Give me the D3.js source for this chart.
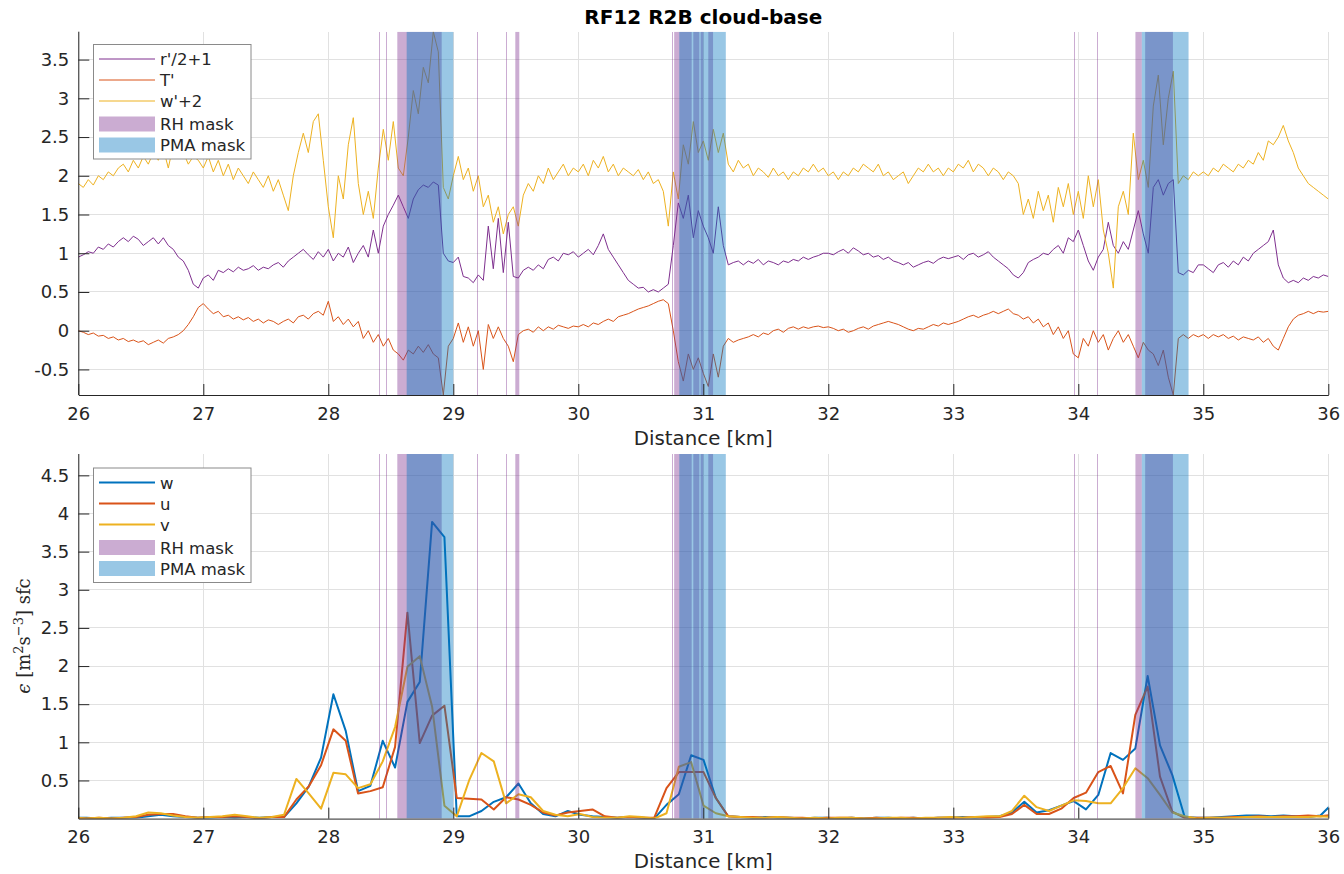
<!DOCTYPE html>
<html>
<head>
<meta charset="utf-8">
<script src="https://cdn.jsdelivr.net/npm/d3@7"></script>
<style>
  body { margin: 0; background: #fff; }
  svg { display: block; font-family: "DejaVu Sans", sans-serif; }
</style>
</head>
<body>
<svg id="fig" width="1344" height="874"></svg>
<script>
// ---------------- data ----------------
// High-rate perturbation record, sampled every 0.04 km starting at 26 km
const hiresStart = 26;
const hiresStep = 0.04;

// r'/2 + 1
const rPrime = [
  0.95,0.98,1.02,1.0,1.08,1.05,1.12,1.08,1.15,1.2,1.15,1.22,1.18,1.1,1.15,1.2,1.12,1.2,1.1,1.05,0.95,0.9,0.78,0.6,0.55,
  0.68,0.72,0.65,0.78,0.75,0.8,0.76,0.82,0.78,0.8,0.84,0.78,0.82,0.8,0.85,0.88,0.82,0.9,0.95,1.0,1.05,0.98,0.92,1.02,0.95,
  1.05,0.9,1.0,0.95,1.08,0.88,1.0,1.1,0.95,1.3,1.0,1.35,1.5,1.62,1.75,1.6,1.45,1.7,1.82,1.88,1.85,1.92,1.88,1.0,0.9,
  0.88,0.95,0.7,0.68,0.62,0.72,0.65,1.35,0.8,1.45,0.75,1.4,0.7,0.68,0.78,0.82,0.78,0.85,0.8,0.92,0.95,0.9,1.0,0.98,1.02,
  0.95,1.0,1.05,0.98,1.1,1.25,1.05,0.95,0.85,0.75,0.65,0.6,0.55,0.56,0.5,0.53,0.5,0.55,0.6,1.1,1.65,1.45,1.75,1.2,1.55,
  1.35,1.2,1.0,1.6,1.1,0.85,0.88,0.9,0.85,0.9,0.87,0.92,0.85,0.9,0.88,0.85,0.9,0.88,0.92,0.9,0.95,0.92,0.95,0.97,1.0,
  1.0,0.98,1.02,1.05,1.0,1.07,1.03,0.98,1.0,0.95,0.97,0.92,0.95,0.9,0.88,0.85,0.88,0.82,0.85,0.88,0.9,0.87,0.92,0.95,0.93,
  0.95,0.97,0.92,0.98,1.0,0.95,0.98,1.02,0.95,0.9,0.85,0.8,0.72,0.68,0.75,0.88,0.92,0.95,1.0,0.98,1.05,1.1,1.0,1.2,1.15,
  1.3,1.1,0.9,0.78,0.95,1.05,1.4,1.1,1.0,1.15,1.05,1.3,1.55,1.25,1.0,1.85,1.95,1.75,1.9,1.95,0.75,0.72,0.78,0.75,0.85,
  0.85,0.8,0.75,0.85,0.88,0.82,0.9,0.85,0.95,0.9,1.0,1.05,1.1,1.15,1.3,0.85,0.68,0.62,0.65,0.62,0.68,0.65,0.7,0.68,0.72,
  0.7
];

// T'
const tPrime = [
  0.0,-0.02,-0.05,-0.03,-0.07,-0.06,-0.1,-0.08,-0.12,-0.1,-0.14,-0.12,-0.15,-0.13,-0.18,-0.15,-0.12,-0.16,-0.1,-0.08,-0.05,0.0,0.08,0.18,0.3,
  0.35,0.28,0.22,0.25,0.18,0.2,0.15,0.18,0.14,0.17,0.12,0.15,0.1,0.14,0.12,0.08,0.12,0.15,0.1,0.18,0.2,0.15,0.22,0.25,0.2,
  0.38,0.12,0.18,0.08,0.15,0.05,0.12,-0.1,0.0,-0.15,-0.05,-0.2,-0.1,-0.25,-0.3,-0.38,-0.25,-0.3,-0.2,-0.28,-0.18,-0.3,-0.35,-0.83,-0.2,
  -0.1,0.1,-0.15,0.05,-0.2,0.0,-0.5,0.08,-0.1,0.05,-0.1,-0.2,-0.4,-0.05,0.0,0.02,-0.02,0.05,0.0,0.05,0.02,0.07,0.05,0.03,0.06,
  0.05,0.08,0.05,0.1,0.08,0.12,0.15,0.12,0.18,0.2,0.22,0.25,0.28,0.3,0.32,0.35,0.38,0.4,0.35,0.0,-0.4,-0.65,-0.3,-0.5,-0.35,
  -0.55,-0.72,-0.3,-0.6,-0.2,-0.1,-0.15,-0.12,-0.1,-0.08,-0.05,-0.08,-0.03,-0.05,0.0,0.02,-0.02,0.03,0.05,0.02,0.05,0.03,0.05,0.06,0.04,
  0.05,0.03,0.0,0.02,-0.02,0.0,0.03,0.05,0.02,0.06,0.08,0.1,0.12,0.1,0.08,0.05,0.02,0.0,0.03,0.02,0.05,0.08,0.06,0.1,0.08,
  0.1,0.12,0.15,0.18,0.2,0.17,0.2,0.22,0.25,0.22,0.25,0.28,0.22,0.2,0.15,0.18,0.1,0.15,0.05,0.1,-0.05,0.05,-0.1,0.0,-0.3,
  -0.35,-0.1,-0.2,0.0,-0.15,-0.05,-0.25,-0.1,0.0,-0.15,-0.05,-0.2,-0.35,-0.15,-0.25,-0.3,-0.45,-0.25,-0.6,-0.83,-0.1,-0.05,-0.1,-0.05,-0.08,
  -0.05,-0.1,-0.05,-0.08,-0.05,-0.1,-0.07,-0.12,-0.08,-0.1,-0.12,-0.08,-0.15,-0.1,-0.2,-0.25,-0.1,0.05,0.15,0.2,0.22,0.25,0.22,0.25,0.24,
  0.25
];

// w' + 2
const wPrime = [
  1.9,1.85,1.95,1.88,2.0,1.95,2.05,2.0,2.1,2.15,2.05,2.2,2.1,2.25,2.15,2.3,2.2,2.35,2.1,2.4,2.25,2.3,2.15,2.25,2.2,
  2.1,2.25,2.05,2.2,2.0,2.15,1.95,2.1,2.0,1.9,2.05,1.95,1.85,2.0,1.8,1.95,1.75,1.55,2.0,2.3,2.55,2.3,2.7,2.8,2.2,
  1.6,1.2,2.0,1.7,2.4,2.75,1.9,1.5,1.8,1.45,2.1,2.6,2.2,2.7,2.1,2.0,2.5,3.1,2.8,3.4,3.2,3.86,3.6,1.85,1.7,
  2.0,2.25,1.95,2.1,1.8,2.0,1.6,1.75,1.4,1.6,1.25,1.5,1.6,1.35,1.75,1.9,1.8,2.0,1.9,2.1,1.95,2.05,2.15,2.0,2.1,
  2.05,2.15,2.0,2.2,2.1,2.25,2.05,2.15,2.0,2.1,2.05,2.0,2.08,1.95,2.05,1.9,1.95,1.8,1.35,2.05,1.7,2.4,2.15,2.7,2.3,
  2.45,2.2,2.6,2.3,2.55,2.15,2.05,2.2,2.1,2.15,2.0,2.1,2.05,1.98,2.1,2.0,2.05,1.95,2.05,2.0,2.1,2.05,2.15,2.05,2.1,
  2.0,2.05,1.95,2.05,2.0,2.1,2.05,2.15,2.1,2.05,2.15,2.0,2.05,1.95,2.0,2.05,1.9,2.0,2.1,2.05,2.15,2.05,2.1,2.0,2.1,
  2.05,2.15,2.1,2.2,2.05,2.15,2.1,2.0,2.1,2.05,1.95,2.05,2.0,1.9,1.5,1.7,1.45,1.8,1.55,1.75,1.4,1.85,1.6,1.9,1.5,
  1.8,1.45,2.0,1.6,1.95,1.3,1.0,0.55,1.6,1.8,1.5,2.55,1.95,2.2,1.85,2.9,3.3,2.4,3.0,3.35,1.9,2.0,1.95,2.05,2.0,
  2.05,2.0,2.1,2.05,2.15,2.1,2.05,2.15,2.1,2.2,2.15,2.3,2.2,2.45,2.4,2.5,2.65,2.45,2.3,2.1,2.0,1.9,1.85,1.8,1.75,
  1.7
];

// Dissipation-rate estimates, one per averaging window
const epsStart = 25.968;
const epsStep = 0.0987;

const epsW = [
  0.01,0.01,0.0,0.01,0.01,0.01,0.03,0.05,0.03,0.02,0.01,0.01,0.02,0.01,0.02,0.01,0.02,
  0.02,0.2,0.42,0.8,1.63,1.15,0.36,0.43,1.02,0.67,1.53,1.79,3.89,3.69,
  0.03,0.03,0.1,0.22,0.28,0.46,0.2,0.06,0.03,0.1,0.05,0.03,0.02,0.01,0.02,0.01,0.0,
  0.18,0.32,0.83,0.77,0.27,0.03,
  0.02,0.01,0.02,0.01,0.01,0.0,0.01,0.01,0.0,0.01,0.0,0.01,0.01,0.0,0.01,0.0,0.01,0.01,0.02,0.01,0.02,0.03,0.08,
  0.22,0.08,0.11,0.17,0.23,0.12,0.31,0.86,0.77,0.92,1.87,0.96,0.57,0.02,
  0.01,0.01,0.02,0.03,0.04,0.04,0.03,0.04,0.03,0.02,0.04,0.2
];
const epsU = [
  0.01,0.0,0.01,0.0,0.01,0.02,0.05,0.06,0.06,0.03,0.01,0.02,0.02,0.03,0.02,0.0,0.02,
  0.02,0.25,0.42,0.7,1.17,1.02,0.33,0.36,0.41,0.94,2.7,0.99,1.35,1.48,
  0.27,0.26,0.25,0.12,0.28,0.25,0.18,0.08,0.04,0.08,0.1,0.12,0.03,0.01,0.02,0.01,0.01,
  0.4,0.61,0.61,0.61,0.27,0.03,
  0.02,0.02,0.01,0.02,0.01,0.01,0.0,0.01,0.01,0.01,0.0,0.01,0.0,0.01,0.01,0.0,0.01,0.01,0.01,0.02,0.01,0.02,0.06,
  0.18,0.06,0.06,0.13,0.27,0.34,0.61,0.69,0.33,1.36,1.73,0.55,0.09,0.01,
  0.01,0.01,0.01,0.02,0.02,0.03,0.02,0.03,0.03,0.04,0.03,0.05
];
const epsV = [
  0.01,0.0,0.01,0.0,0.01,0.03,0.08,0.07,0.04,0.02,0.01,0.02,0.03,0.05,0.03,0.01,0.02,
  0.05,0.52,0.33,0.13,0.6,0.58,0.4,0.45,0.75,1.2,1.99,2.13,1.47,0.17,
  0.03,0.5,0.86,0.75,0.2,0.32,0.28,0.1,0.05,0.03,0.06,0.02,0.01,0.01,0.03,0.02,0.0,
  0.07,0.68,0.74,0.17,0.07,0.03,
  0.02,0.01,0.01,0.02,0.01,0.0,0.01,0.0,0.01,0.01,0.0,0.0,0.01,0.01,0.0,0.01,0.01,0.02,0.01,0.02,0.03,0.03,0.1,
  0.3,0.15,0.1,0.17,0.24,0.23,0.2,0.2,0.4,0.66,0.53,0.31,0.08,0.03,
  0.0,0.01,0.01,0.01,0.02,0.02,0.02,0.02,0.02,0.02,0.03,0.02
];

// Masked distance intervals [start, end] in km
const rhMask = [
  [28.404, 28.412], [28.463, 28.471], [28.552, 28.907], [29.188, 29.196],
  [29.418, 29.426], [29.496, 29.528], [30.747, 30.757], [30.767, 30.907],
  [30.92, 30.968], [30.979, 31.0], [31.04, 31.078], [33.962, 33.976],
  [34.148, 34.156], [34.457, 34.508], [34.535, 34.757]
];
const pmaMask = [[28.627, 29.0], [30.808, 31.18], [34.508, 34.882]];

const xTicks = [26, 27, 28, 29, 30, 31, 32, 33, 34, 35, 36];
const topYTicks = [-0.5, 0, 0.5, 1, 1.5, 2, 2.5, 3, 3.5];
const botYTicks = [0.5, 1, 1.5, 2, 2.5, 3, 3.5, 4, 4.5];

const topSeries = [
  { name: "r'/2+1", values: rPrime, color: "#7E2F8E" },
  { name: "T'", values: tPrime, color: "#D95319" },
  { name: "w'+2", values: wPrime, color: "#EDB120" }
];
const botSeries = [
  { name: "w", values: epsW, color: "#0072BD" },
  { name: "u", values: epsU, color: "#D95319" },
  { name: "v", values: epsV, color: "#EDB120" }
];
const maskStyles = [
  { name: "RH mask", intervals: rhMask, color: "#7E2F8E" },
  { name: "PMA mask", intervals: pmaMask, color: "#0072BD" }
];

// ---------------- drawing ----------------
const svg = d3.select("#fig");
const X0 = 78.3, X1 = 1328.3;
const x = d3.scaleLinear().domain([26, 36]).range([X0, X1]);

const axisColor = "#262626";
const gridColor = "#e1e1e1";
const tickFont = 18;

function drawPanel(id, top, bottom, yDomain, yTicks, series, xOf, lineWidth, legendTop, xLabelBaseline) {
  const y = d3.scaleLinear().domain(yDomain).range([bottom, top]);
  const g = svg.append("g").attr("id", id);

  g.append("defs").append("clipPath").attr("id", id + "-clip")
    .append("rect").attr("x", X0).attr("y", top).attr("width", X1 - X0).attr("height", bottom - top);

  // grid
  const grid = g.append("g").attr("shape-rendering", "crispEdges");
  grid.selectAll("line.gx").data(xTicks).join("line")
    .attr("x1", d => x(d)).attr("x2", d => x(d)).attr("y1", top).attr("y2", bottom)
    .attr("stroke", gridColor).attr("stroke-width", 1);
  grid.selectAll("line.gy").data(yTicks).join("line")
    .attr("x1", X0).attr("x2", X1).attr("y1", d => y(d)).attr("y2", d => y(d))
    .attr("stroke", gridColor).attr("stroke-width", 1);

  // series
  const plot = g.append("g").attr("clip-path", `url(#${id}-clip)`);
  series.forEach(s => {
    const line = d3.line().x((d, i) => x(xOf(i))).y(d => y(d));
    plot.append("path").datum(s.values)
      .attr("d", line).attr("fill", "none")
      .attr("stroke", s.color).attr("stroke-width", lineWidth)
      .attr("stroke-linejoin", "round");
  });

  // masks drawn over the series; hairline intervals snap to whole pixels
  maskStyles.forEach(m => {
    plot.selectAll(null).data(m.intervals).join("rect")
      .attr("x", d => x(d[0])).attr("width", d => Math.max(1, x(d[1]) - x(d[0])))
      .attr("y", top).attr("height", bottom - top)
      .attr("shape-rendering", d => (x(d[1]) - x(d[0]) < 2 ? "crispEdges" : "auto"))
      .attr("fill", m.color).attr("fill-opacity", 0.4);
  });

  // axes
  const xAxis = d3.axisBottom(x).tickValues(xTicks).tickFormat(d => String(d))
    .tickSize(-11).tickSizeOuter(0).tickPadding(12);
  const ax = g.append("g").attr("transform", `translate(0,${bottom})`).call(xAxis);
  const yAxis = d3.axisLeft(y).tickValues(yTicks).tickFormat(d => String(d))
    .tickSize(-11).tickSizeOuter(0).tickPadding(9);
  const ay = g.append("g").attr("transform", `translate(${X0},0)`).call(yAxis);
  [ax, ay].forEach(a => {
    a.select(".domain").attr("stroke", axisColor).attr("stroke-width", 1);
    a.selectAll(".tick line").attr("stroke", axisColor).attr("stroke-width", 1);
    a.selectAll(".tick text").attr("fill", axisColor)
      .style("font-family", "DejaVu Sans, sans-serif").style("font-size", tickFont + "px");
  });
  // left axis line spans the full plot height
  ay.select(".domain").attr("d", `M0.5,${top}V${bottom}`);

  g.append("text").attr("x", (X0 + X1) / 2).attr("y", xLabelBaseline)
    .attr("text-anchor", "middle").attr("fill", axisColor)
    .style("font-size", "19.8px").text("Distance [km]");

  // legend
  const lg = g.append("g");
  lg.append("rect").attr("x", 93.5).attr("y", legendTop + 0.5).attr("width", 157.5).attr("height", 114.5)
    .attr("fill", "#fff").attr("stroke", "#8a8a8a").attr("stroke-width", 1);
  const rowOffsets = [15, 36, 57, 80, 101];
  series.forEach((s, i) => {
    const ry = legendTop + rowOffsets[i];
    lg.append("line").attr("x1", 99).attr("x2", 155).attr("y1", ry).attr("y2", ry)
      .attr("stroke", s.color).attr("stroke-width", lineWidth);
    lg.append("text").attr("x", 160).attr("y", ry + 6).attr("fill", axisColor)
      .style("font-size", "16.5px").text(s.name);
  });
  maskStyles.forEach((m, j) => {
    const ry = legendTop + rowOffsets[3 + j];
    lg.append("rect").attr("x", 99).attr("y", ry - 7.5).attr("width", 56).attr("height", 15)
      .attr("fill", m.color).attr("fill-opacity", 0.4);
    lg.append("text").attr("x", 160).attr("y", ry + 6).attr("fill", axisColor)
      .style("font-size", "16.5px").text(m.name);
  });
  return y;
}

const allTop = rPrime.concat(tPrime, wPrime);
drawPanel("upper", 31.7, 395, d3.extent(allTop), topYTicks, topSeries,
  i => hiresStart + i * hiresStep, 1, 44, 444.5);
drawPanel("lower", 454, 818.6, [0, 4.78], botYTicks, botSeries,
  i => epsStart + i * epsStep, 2, 467.5, 867.5);

// title
svg.append("text").attr("x", (X0 + X1) / 2).attr("y", 24)
  .attr("text-anchor", "middle").attr("fill", "#000")
  .style("font-size", "20px").style("font-weight", "bold")
  .text("RF12 R2B cloud-base");

// lower y-axis label (dissipation rate)
const yl = svg.append("text")
  .attr("transform", "translate(30,636) rotate(-90)")
  .attr("text-anchor", "middle").attr("fill", axisColor)
  .style("font-family", "'DejaVu Serif', 'Liberation Serif', serif").style("font-size", "18px");
yl.append("tspan").style("font-style", "italic").text("ϵ");
yl.append("tspan").text(" [m");
yl.append("tspan").attr("dy", -7).style("font-size", "13px").text("2");
yl.append("tspan").attr("dy", 7).text("s");
yl.append("tspan").attr("dy", -7).style("font-size", "13px").text("−3");
yl.append("tspan").attr("dy", 7).text("] sfc");
</script>
</body>
</html>
